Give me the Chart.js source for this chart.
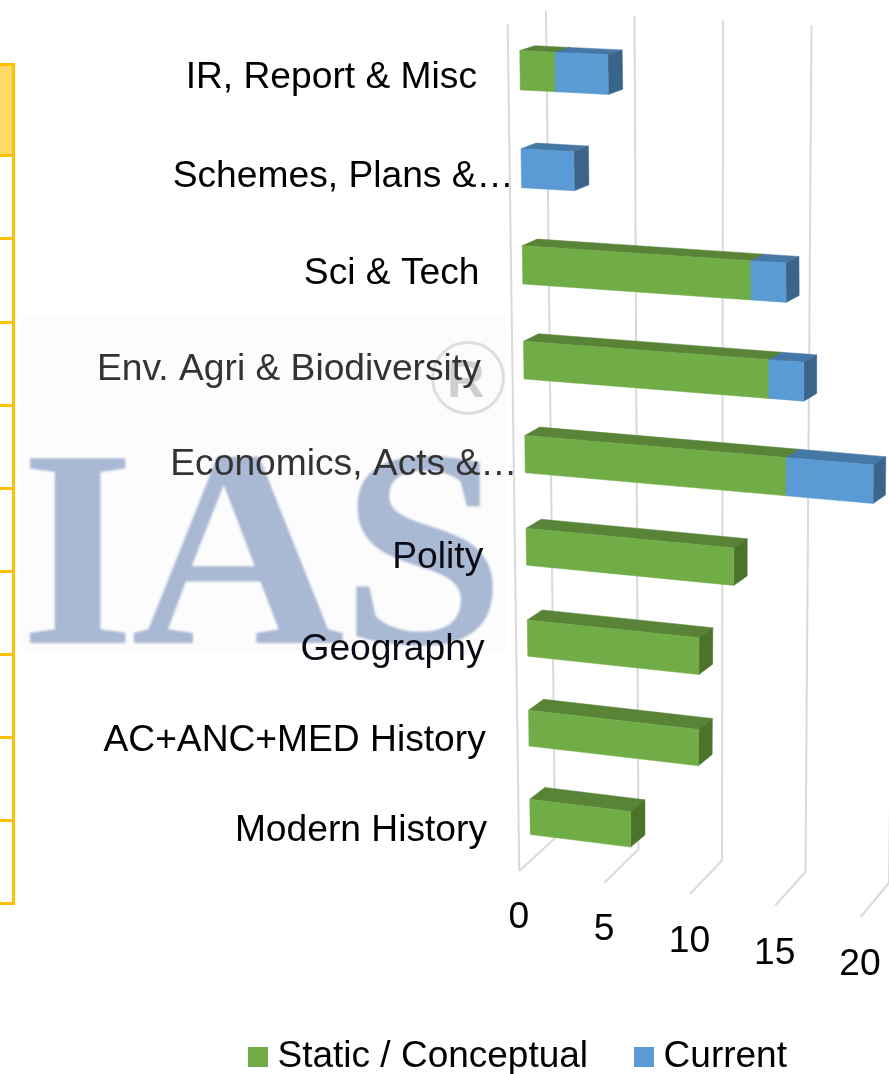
<!DOCTYPE html>
<html>
<head>
<meta charset="utf-8">
<script src="https://cdn.jsdelivr.net/npm/chart.js@4"></script>
<style>
html,body{margin:0;padding:0;background:#fff;width:889px;height:1074px;overflow:hidden}
#stage{position:relative;width:889px;height:1074px;overflow:hidden}
canvas{position:absolute;left:0;top:0}
.abs{position:absolute}
#wash{left:20px;top:315px;width:486px;height:336px;background:#fcfcfd}
#ias{left:20px;top:407px;font:bold 282px/1 "Liberation Serif",serif;color:#a9b8d3;filter:blur(.8px);white-space:nowrap;letter-spacing:-4px;transform:scaleX(1.05);transform-origin:left top}
#ring{left:431px;top:341px;width:68px;height:68px;border:3px solid #dedede;border-radius:50%;filter:blur(.5px)}
#reg{left:447px;top:353px;font:bold 52px/1 "Liberation Sans",sans-serif;color:#cfcfcf;filter:blur(.6px)}
</style>
</head>
<body>
<div id="stage">
  <div class="abs" id="wash"></div>
  <div class="abs" id="ias">IAS</div>
  <div class="abs" id="ring"></div>
  <div class="abs" id="reg">R</div>
  <canvas id="c" width="889" height="1074"></canvas>
</div>
<script>
const categories = ["IR, Report & Misc","Schemes, Plans &…","Sci & Tech","Env. Agri & Biodiversity","Economics, Acts &…","Polity","Geography","AC+ANC+MED History","Modern History"];
const staticConceptual = [2,0,13,14,15,12,10,10,6];
const current = [3,3,2,2,5,0,0,0,0];
const seriesNames = ["Static / Conceptual","Current"];
const xTicks = [0,5,10,15,20];
const tableRows = [155,238,322,405,488,571,654,737,820,903];

const frontColors = ["#70ad47","#5b9bd5"];
const topColors = ["#598336","#4678a6"];
const sideColors = ["#4b7329","#3a6488"];
const labelColors = ["#000","#000","#000","#333","#333","#0a0a14","#0a0a14","#000","#000"];
const FONT = {family:'"Liberation Sans",Arial,sans-serif',size:37.2};
const LEGEND_FONT = {family:'"Liberation Sans",Arial,sans-serif',size:37};

// left-hand table fragment
const stage = document.getElementById('stage');
function box(l,t,w,h,bg){const d=document.createElement('div');d.className='abs';d.style.cssText=`left:${l}px;top:${t}px;width:${w}px;height:${h}px;background:${bg}`;stage.insertBefore(d,stage.firstChild);}
tableRows.forEach(y=>box(0,y-1,14,3,'#ffc000'));
box(12,63,3,842,'#ffc000');
box(0,63,14,3,'#ffc000');
box(0,66,12,89,'#ffd966');

// perspective mapping: value u along the axis, r = category position
const P = {
  x:(u,r)=>520+1.25*r+u*(17.62-0.013*r*r),
  y:(u,r)=>70.3+98.6*r-0.66*r*r+u*(17.62-0.013*r*r)*(0.049+0.0094*r),
  bx:(u,r)=>P.x(u,r)+15-0.13*u,
  by:(u,r)=>P.y(u,r)-5-0.875*r
};
function poly(ctx,pts,color){
  ctx.beginPath();pts.forEach((p,i)=>i?ctx.lineTo(p[0],p[1]):ctx.moveTo(p[0],p[1]));ctx.closePath();
  ctx.fillStyle=color;ctx.fill();ctx.strokeStyle=color;ctx.lineWidth=.5;ctx.stroke();
}
const perspective = {
  id:'perspective',
  afterLayout(chart){
    if(chart.legend){chart.legend.top+=11;chart.legend.bottom+=11;}
  },
  beforeDraw(chart){
    const xs=chart.scales.x, ys=chart.scales.y;
    xs.getLabelItems=function(area){
      const items=Object.getPrototypeOf(this).getLabelItems.call(this,area);
      items.forEach((it,i)=>{const v=this.ticks[i].value;
        it.textOffset=0;it.options.textAlign='center';it.options.textBaseline='middle';
        it.options.translation=[518.9+17.05*v,918+2.35*v];});
      return items;
    };
    ys.getLabelItems=function(area){
      const items=Object.getPrototypeOf(this).getLabelItems.call(this,area);
      items.forEach((it,r)=>{
        const extra=String(it.label).endsWith('…')?35.5:0;
        it.textOffset=0;it.options.textAlign='right';it.options.textBaseline='middle';
        it.options.translation=[477+1.25*r+extra,70.3+98.6*r-0.66*r*r+7.5+0.75*r];});
      return items;
    };
  },
  beforeDatasetsDraw(chart){
    const ctx=chart.ctx, xs=chart.scales.x, ys=chart.scales.y;
    // walls and floor grid
    ctx.save();
    ctx.strokeStyle='#d9d9d9';ctx.lineWidth=2;ctx.lineJoin='round';
    xs.ticks.forEach(t=>{
      const v=xs.getValueForPixel(xs.getPixelForValue(t.value));
      ctx.beginPath();
      ctx.moveTo(546+17.7*v,11+0.95*v);
      ctx.lineTo(555+16.7*v,838+2.25*v);
      ctx.lineTo(519.3+17.07*v,871+2.3*v);
      ctx.stroke();
    });
    ctx.beginPath();ctx.moveTo(507.7,24);ctx.lineTo(519.3,871);ctx.stroke();
    // bars, read from the library's elements
    const y0=ys.getPixelForValue(0), step=ys.getPixelForValue(1)-y0;
    const n=chart.data.labels.length;
    for(let i=0;i<n;i++){
      chart.data.datasets.forEach((ds,d)=>{
        const el=chart.getDatasetMeta(d).data[i];
        if(!ds.data[i])return;
        const u0=xs.getValueForPixel(el.base), u1=xs.getValueForPixel(el.x);
        const r0=(el.y-el.height/2-y0)/step, r1=(el.y+el.height/2-y0)/step;
        const a=[P.x(u0,r0),P.y(u0,r0)], b=[P.x(u1,r0),P.y(u1,r0)],
              c=[P.x(u1,r1),P.y(u1,r1)], e=[P.x(u0,r1),P.y(u0,r1)];
        const a2=[P.bx(u0,r0),P.by(u0,r0)], b2=[P.bx(u1,r0),P.by(u1,r0)], c2=[P.bx(u1,r1),P.by(u1,r1)];
        poly(ctx,[a,b,b2,a2],topColors[d]);
        poly(ctx,[b,c,c2,b2],sideColors[d]);
        poly(ctx,[a,b,c,e],frontColors[d]);
      });
    }
    ctx.restore();
    return false;
  }
};
function swatch(color){const s=document.createElement('canvas');s.width=20;s.height=20;const g=s.getContext('2d');g.fillStyle=color;g.fillRect(0,0,20,20);return s;}
const swatches=frontColors.map(swatch);

new Chart(document.getElementById('c'),{
  type:'bar',
  data:{labels:categories,datasets:[
    {label:seriesNames[0],data:staticConceptual,backgroundColor:frontColors[0]},
    {label:seriesNames[1],data:current,backgroundColor:frontColors[1]}
  ]},
  options:{
    indexAxis:'y',responsive:false,animation:false,
    datasets:{bar:{categoryPercentage:1,barPercentage:.4}},
    layout:{padding:{left:155,right:0,top:0,bottom:0}},
    scales:{
      x:{stacked:true,min:0,max:20,grid:{display:false},border:{display:false},
         afterBuildTicks(s){s.ticks=xTicks.map(v=>({value:v}));},
         afterFit(s){s.height=40;},
         ticks:{mirror:true,autoSkip:false,maxRotation:0,font:FONT,color:'#000',z:1}},
      y:{stacked:true,grid:{display:false},border:{display:false},
         afterFit(s){s.width=300;},
         ticks:{mirror:true,autoSkip:false,font:FONT,color:c=>labelColors[c.index],z:1}}
    },
    plugins:{
      tooltip:{enabled:false},
      legend:{position:'bottom',labels:{
        font:LEGEND_FONT,color:'#000',usePointStyle:true,pointStyleWidth:2,padding:55,
        generateLabels(chart){
          return Chart.defaults.plugins.legend.labels.generateLabels(chart).map((l,i)=>({...l,pointStyle:swatches[i]}));
        }
      }}
    }
  },
  plugins:[perspective]
});
</script>
</body>
</html>
